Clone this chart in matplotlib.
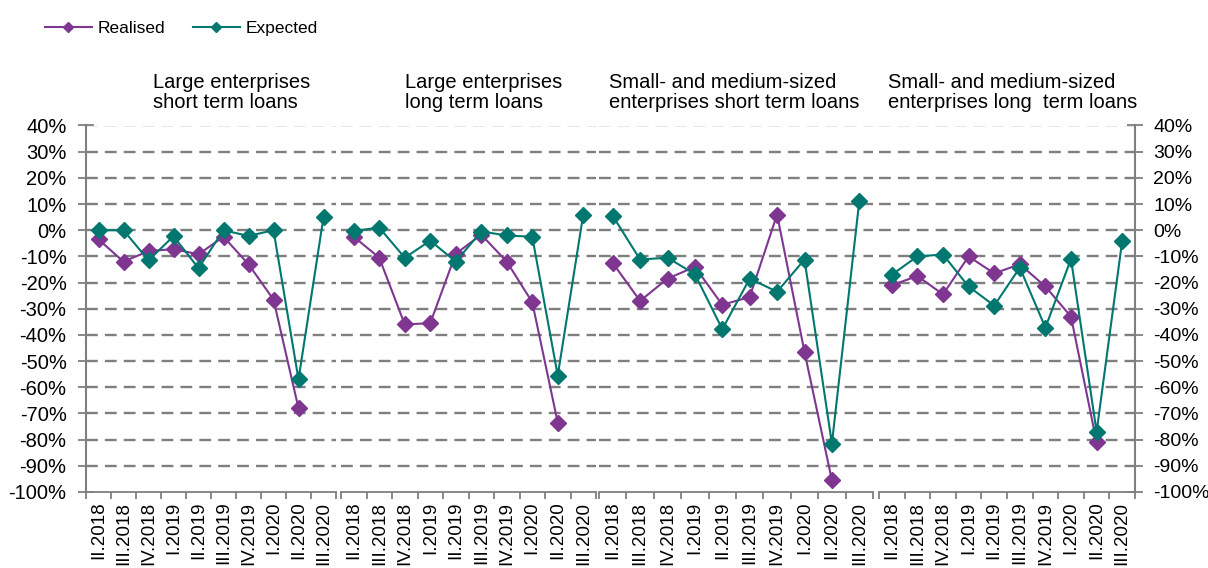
import matplotlib
matplotlib.use("Agg")
import matplotlib.pyplot as plt
from matplotlib.lines import Line2D

plt.rcParams['font.family'] = ['Liberation Sans', 'DejaVu Sans']

quarters = ['II.2018', 'III.2018', 'IV.2018', 'I.2019', 'II.2019', 'III.2019',
            'IV.2019', 'I.2020', 'II.2020', 'III.2020']

titles = ['Large enterprises\nshort term loans',
          'Large enterprises\nlong term loans',
          'Small- and medium-sized\nenterprises short term loans',
          'Small- and medium-sized\nenterprises long  term loans']

# percent values, realised has no III.2020 value
realised_large_short = [-3.5, -12, -8, -7.2, -9.2, -2.5, -13, -26.5, -68]
expected_large_short = [0, 0, -11.5, -2.3, -14.5, 0, -2.2, 0, -57, 5]
realised_large_long = [-2.5, -10.5, -36, -35.5, -9, -1.7, -12, -27.5, -73.5]
expected_large_long = [-0.3, 1, -10.5, -4, -12, -0.5, -2, -2.5, -55.5, 6]
realised_sme_short = [-12.5, -27, -18.5, -14, -28.5, -25.5, 6, -46.5, -95.5]
expected_sme_short = [5.5, -11.2, -10.5, -16.8, -37.8, -18.5, -23.5, -11.2, -81.5, 11.2]
realised_sme_long = [-21, -17.5, -24.5, -10, -16.5, -13, -21.5, -33, -81]
expected_sme_long = [-17, -10, -9.3, -21.5, -28.8, -14.3, -37.2, -11, -77, -4]

realised = [realised_large_short, realised_large_long, realised_sme_short, realised_sme_long]
expected = [expected_large_short, expected_large_long, expected_sme_short, expected_sme_long]

purple = '#7E3690'
teal = '#00776F'
grey = '#7F7F7F'

W, H = 1208, 568
fig = plt.figure(figsize=(W / 100, H / 100), dpi=100)

# panel extents in pixels (left, right), shared vertical extent
panels_px = [(86, 336), (341, 596), (599, 873), (879, 1135)]
top_px, bottom_px = 125.5, 492
title_x = [153, 405, 609, 888]

x = list(range(len(quarters)))
for i, (l, r) in enumerate(panels_px):
    ax = fig.add_axes([l / W, 1 - bottom_px / H, (r - l) / W, (bottom_px - top_px) / H])
    ax.set_xlim(-0.5, len(quarters) - 0.5)
    ax.set_ylim(-100, 40)
    for yv in range(-90, 41, 10):
        ax.axhline(yv, color=grey, lw=1.7, ls=(0, (5, 3)), zorder=1)
    ax.plot(x[:len(realised[i])], realised[i], color=purple, lw=1.5, marker='D',
            ms=8.5, zorder=3, clip_on=False)
    ax.plot(x, expected[i], color=teal, lw=1.5, marker='D', ms=8.5, zorder=4, clip_on=False)

    for s in ['top', 'left', 'right']:
        ax.spines[s].set_visible(False)
    ax.spines['bottom'].set_color(grey)
    ax.spines['bottom'].set_linewidth(1.3)

    ax.set_xticks(x)
    ax.set_xticklabels(quarters, rotation=90, fontsize=13.5, va='top')
    ax.tick_params(axis='x', which='major', length=0, pad=7)
    ax.set_xticks([v - 0.5 for v in range(len(quarters) + 1)], minor=True)
    ax.tick_params(axis='x', which='minor', length=5, color=grey, width=1.3)

    yticks = list(range(-100, 41, 10))
    ylabels = ['%d%%' % v for v in yticks]
    if i == 0:
        ax.spines['left'].set_visible(True)
        ax.spines['left'].set_color(grey)
        ax.spines['left'].set_linewidth(1.5)
        ax.set_yticks(yticks)
        ax.set_yticklabels(ylabels, fontsize=14.5)
        ax.tick_params(axis='y', direction='inout', length=12, color=grey, width=1.3, pad=8)
    elif i == 3:
        ax.spines['right'].set_visible(True)
        ax.spines['right'].set_color(grey)
        ax.spines['right'].set_linewidth(1.5)
        ax.yaxis.tick_right()
        ax.set_yticks(yticks)
        ax.set_yticklabels(ylabels, fontsize=14)
        ax.tick_params(axis='y', direction='inout', length=12, color=grey, width=1.3, pad=7)
    else:
        ax.set_yticks([])

    fig.text(title_x[i] / W, 1 - 73 / H, titles[i], ha='left', va='top',
             fontsize=14.5, linespacing=1.08)

handles = [Line2D([], [], color=purple, lw=1.5, marker='D', ms=5.5),
           Line2D([], [], color=teal, lw=1.5, marker='D', ms=5.5)]
fig.legend(handles, ['Realised', 'Expected'], loc='upper left',
           bbox_to_anchor=(29 / W, 1 - 5 / H), ncol=2, frameon=False,
           fontsize=12.5, handlelength=2.7, columnspacing=1.6, handletextpad=0.35)

fig.savefig('out.png', dpi=100)
